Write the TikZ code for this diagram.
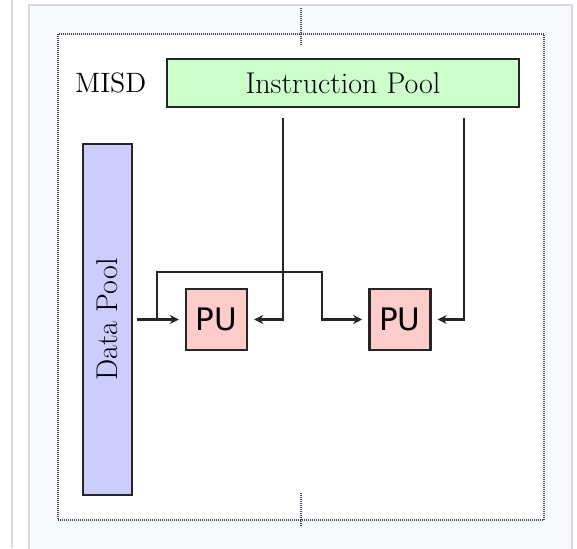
\documentclass[tikz,border=0pt]{standalone}
\usepackage{fontspec}
\newfontfamily\pufont{DejaVu Sans}
\usetikzlibrary{positioning, arrows.meta}
\definecolor{instrgreen}{RGB}{204,255,204}
\definecolor{datablue}{RGB}{204,204,255}
\definecolor{pupink}{RGB}{255,204,204}
\definecolor{framefill}{RGB}{248,249,250}
\definecolor{frameline}{RGB}{214,217,222}
\definecolor{dotline}{RGB}{70,70,100}
\tikzset{
  pool/.style={draw=black!85, line width=1.2pt, inner sep=0pt, font=\fontsize{15}{18}\selectfont},
  pu/.style={draw=black!85, fill=pupink, line width=1.2pt, minimum size=30.5pt, inner sep=0pt, font=\pufont\fontsize{15.5}{18}\selectfont},
  flow/.style={draw=black!85, line width=1.2pt, shorten >=3pt},
  tick/.style={draw=dotline, line width=1pt, dash pattern=on 0.6pt off 0.4pt},
}

\begin{document}
\begin{tikzpicture}[x=0.5pt, y=-0.5pt, >={Stealth[length=4.5pt,width=4.5pt]}]
  \useasboundingbox (0,0) rectangle (577,548);
  % page frame
  \draw[frameline, line width=0.6pt] (12,0) -- (12,548);
  \draw[frameline, fill=framefill, line width=0.6pt] (29,5) rectangle (572,560);
  \draw[dotline, fill=white, line width=0.7pt, dash pattern=on 0.5pt off 0.5pt] (58,34) rectangle (544,520);
  \draw[tick] (300.7,8) -- (300.7,45);
  \draw[tick] (300.7,493) -- (300.7,527);

  % pools and units
  \node[pool, fill=instrgreen, minimum width=176pt, minimum height=24pt] (instr) at (343,83) {Instruction Pool};
  \node[inner sep=0pt, left=9.5pt of instr, font=\fontsize{14}{17}\selectfont] (misd) {MISD};
  \node[pool, fill=datablue, rotate=90, minimum width=175.5pt, minimum height=24.5pt] (data) at (107.5,319.5) {Data Pool};
  \node[pu] (pu1) at (216.5,319.5) {PU};
  \node[pu, right=60pt of pu1] (pu2) {PU};

  % data stream
  \coordinate (dsrc) at (137,319.5);
  \coordinate (split) at (157,319.5);
  \coordinate (jog) at (322,272);
  \draw[flow,->] (dsrc) -- (pu1);
  \draw[flow,->] (split) |- (jog) |- (pu2);

  % instruction streams
  \coordinate (isrc1) at (283,118);
  \coordinate (isrc2) at (464,118);
  \draw[flow,->] (isrc1) |- (pu1);
  \draw[flow,->] (isrc2) |- (pu2);
\end{tikzpicture}
\end{document}
